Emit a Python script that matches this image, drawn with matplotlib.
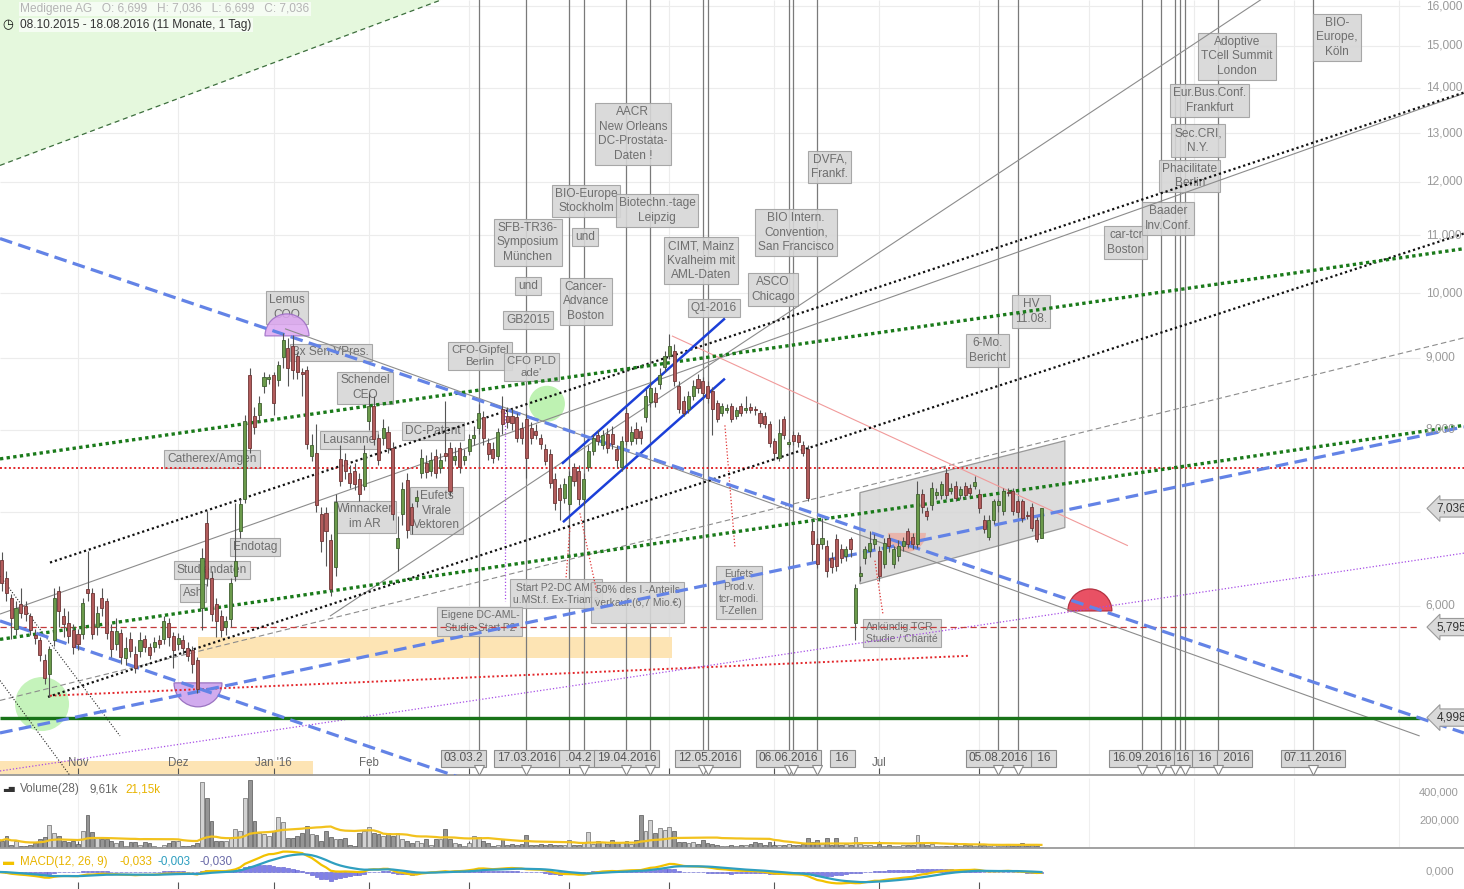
import numpy as np
import pandas as pd
import matplotlib
matplotlib.use('Agg')
import matplotlib.pyplot as plt
from matplotlib.patches import Wedge, Polygon
from matplotlib.transforms import ScaledTranslation, blended_transform_factory
from matplotlib.ticker import NullLocator

plt.rcParams['font.family'] = ['Liberation Sans', 'DejaVu Sans']

# Medigene AG, daily candles 08.10.2015 - 18.08.2016
opens = [6.60, 6.47, 6.28, 6.08, 5.78, 6.02, 6.00, 5.90, 5.72, 5.67,
         5.49, 5.37, 5.67, 6.15, 5.90, 5.83, 5.77, 5.73, 5.73, 6.17,
         6.13, 5.80, 6.08, 6.05, 5.76, 5.64, 5.74, 5.51, 5.68, 5.55,
         5.57, 5.68, 5.61, 5.61, 5.67, 5.68, 5.83, 5.71, 5.64, 5.67,
         5.60, 5.58, 5.49, 5.98, 6.87, 6.28, 6.02, 5.90, 5.80, 5.87,
         6.30, 6.78, 7.15, 8.75, 8.19, 8.20, 8.60, 8.70, 8.75, 8.68,
         9.01, 9.15, 9.18, 9.03, 8.80, 8.83, 7.67, 7.70, 6.97, 6.98,
         6.68, 6.39, 7.63, 7.61, 7.45, 7.48, 7.38, 7.30, 8.12, 8.32,
         7.89, 7.89, 7.97, 7.77, 6.60, 6.97, 7.37, 7.05, 7.12, 7.46,
         7.58, 7.48, 7.67, 7.52, 7.70, 7.77, 7.62, 7.77, 7.62, 7.73,
         7.89, 8.02, 8.17, 7.83, 7.75, 7.67, 8.28, 8.19, 8.19, 8.17,
         8.03, 8.15, 8.03, 7.99, 7.89, 7.75, 7.69, 7.38, 7.27, 7.16,
         7.09, 7.53, 7.48, 7.14, 7.53, 7.73, 7.93, 7.80, 7.95, 7.95,
         7.75, 7.53, 8.22, 7.86, 8.01, 7.99, 8.17, 8.37, 8.50, 8.63,
         8.86, 9.03, 9.10, 8.60, 8.39, 8.28, 8.46, 8.70, 8.67, 8.60,
         8.53, 8.36, 8.23, 8.27, 8.32, 8.19, 8.32, 8.27, 8.30, 8.28,
         8.22, 8.19, 8.08, 7.86, 7.64, 8.15, 7.82, 7.93, 7.93, 7.80,
         7.76, 6.78, 6.64, 6.64, 6.62, 6.49, 6.69, 6.58, 6.51, 6.69,
         5.83, 6.30, 6.49, 6.56, 6.64, 6.56, 6.43, 6.70, 6.43, 6.51,
         6.62, 6.78, 6.72, 6.64, 7.21, 7.01, 7.07, 7.19, 7.19, 7.46,
         7.24, 7.30, 7.19, 7.30, 7.28, 7.30, 7.21, 6.90, 6.72, 6.90,
         7.07, 7.01, 7.23, 7.24, 7.12, 7.12, 6.96, 7.05, 6.90, 6.699]
highs = [6.65, 6.55, 6.35, 6.12, 6.05, 6.18, 6.05, 5.93, 5.78, 5.70,
         5.55, 5.62, 6.18, 6.20, 5.98, 5.95, 5.82, 5.78, 6.08, 6.56,
         6.18, 6.00, 6.18, 6.08, 5.82, 5.88, 5.78, 5.70, 5.75, 5.62,
         5.75, 5.72, 5.65, 5.70, 5.72, 5.90, 5.88, 5.75, 5.74, 5.72,
         5.66, 5.62, 5.52, 6.60, 7.01, 6.35, 6.08, 5.96, 5.90, 6.28,
         7.10, 7.15, 8.20, 8.85, 8.30, 8.45, 8.80, 8.76, 8.80, 8.95,
         9.38, 9.30, 9.35, 9.08, 8.85, 8.88, 7.95, 8.08, 7.05, 7.05,
         6.75, 7.20, 7.80, 7.70, 7.55, 7.58, 7.45, 7.80, 8.50, 8.45,
         7.95, 8.15, 8.05, 7.85, 6.95, 7.35, 7.45, 7.10, 7.25, 7.75,
         7.68, 7.72, 7.75, 7.70, 8.39, 7.85, 7.78, 7.85, 7.75, 7.95,
         8.05, 8.35, 8.25, 7.90, 7.85, 8.02, 8.45, 8.30, 8.28, 8.22,
         8.10, 8.22, 8.10, 8.08, 7.95, 7.82, 7.75, 7.45, 7.32, 7.40,
         7.48, 7.58, 7.55, 7.45, 7.80, 7.95, 8.00, 8.00, 8.02, 8.05,
         7.80, 7.92, 8.30, 8.05, 8.10, 8.05, 8.55, 8.65, 8.58, 8.85,
         9.10, 9.36, 9.20, 8.66, 8.45, 8.52, 8.68, 8.76, 8.72, 8.66,
         8.58, 8.40, 8.36, 8.34, 8.36, 8.30, 8.36, 8.46, 8.36, 8.32,
         8.26, 8.24, 8.12, 7.90, 8.14, 8.18, 7.88, 7.98, 7.97, 7.86,
         7.80, 6.90, 6.70, 6.93, 6.68, 6.55, 6.75, 6.64, 6.62, 6.72,
         6.22, 6.40, 6.62, 6.78, 6.75, 6.62, 6.70, 6.75, 6.62, 6.68,
         6.72, 6.82, 6.76, 7.36, 7.26, 7.05, 7.35, 7.28, 7.36, 7.52,
         7.34, 7.36, 7.30, 7.35, 7.32, 7.42, 7.26, 6.96, 6.96, 7.14,
         7.14, 7.28, 7.28, 7.28, 7.14, 7.14, 7.01, 7.10, 6.94, 7.036]
lows = [6.40, 6.15, 6.05, 5.68, 5.72, 5.88, 5.85, 5.72, 5.64, 5.48,
        5.28, 5.17, 5.62, 5.80, 5.70, 5.65, 5.55, 5.58, 5.68, 6.05,
        5.68, 5.72, 5.90, 5.68, 5.52, 5.58, 5.46, 5.45, 5.52, 5.38,
        5.52, 5.56, 5.50, 5.56, 5.60, 5.64, 5.62, 5.42, 5.58, 5.55,
        5.48, 5.38, 5.20, 5.77, 6.20, 5.85, 5.70, 5.70, 5.72, 5.80,
        6.25, 6.70, 7.10, 7.70, 7.95, 8.10, 8.50, 8.62, 8.20, 8.60,
        8.85, 8.60, 8.70, 8.70, 8.45, 7.75, 7.60, 7.00, 6.55, 6.40,
        6.10, 6.30, 7.30, 7.38, 7.28, 7.25, 7.12, 7.25, 8.00, 7.80,
        7.55, 7.80, 7.70, 6.90, 6.35, 6.85, 6.70, 6.75, 7.05, 7.40,
        7.40, 7.42, 7.40, 7.45, 7.60, 7.18, 7.55, 7.45, 7.55, 7.68,
        7.80, 7.95, 7.80, 7.62, 7.58, 7.62, 7.95, 8.02, 8.00, 7.85,
        7.82, 7.40, 7.82, 7.88, 7.75, 7.55, 7.28, 7.02, 6.90, 7.10,
        7.02, 7.30, 7.08, 7.08, 7.48, 7.68, 7.80, 7.75, 7.70, 7.75,
        7.52, 7.48, 7.80, 7.80, 7.82, 7.82, 8.10, 8.30, 8.30, 8.55,
        8.80, 8.98, 8.60, 8.22, 8.18, 8.22, 8.40, 8.50, 8.44, 8.36,
        7.93, 8.10, 8.18, 8.22, 8.10, 8.14, 8.18, 8.22, 8.22, 8.20,
        8.04, 8.02, 7.78, 7.62, 7.60, 7.88, 7.78, 7.80, 7.78, 7.66,
        7.12, 6.46, 6.38, 6.58, 6.29, 6.33, 6.35, 6.44, 6.46, 6.50,
        5.67, 6.25, 6.42, 6.50, 6.58, 6.25, 6.38, 6.55, 6.38, 6.46,
        6.56, 6.60, 6.58, 6.60, 6.98, 6.90, 7.02, 7.15, 7.14, 7.15,
        7.20, 7.12, 7.14, 7.15, 7.18, 7.26, 6.98, 6.76, 6.68, 6.86,
        7.00, 6.96, 7.18, 6.96, 6.94, 6.88, 6.92, 6.78, 6.66, 6.699]
closes = [6.45, 6.23, 6.13, 5.88, 5.98, 5.93, 5.92, 5.77, 5.69, 5.54,
          5.33, 5.59, 6.08, 5.95, 5.82, 5.71, 5.61, 5.64, 6.03, 6.13,
          5.73, 5.93, 5.98, 5.74, 5.59, 5.76, 5.52, 5.60, 5.57, 5.42,
          5.67, 5.61, 5.54, 5.66, 5.64, 5.85, 5.70, 5.58, 5.69, 5.60,
          5.53, 5.46, 5.24, 6.49, 6.28, 5.92, 5.85, 5.77, 5.85, 6.23,
          6.46, 7.09, 8.12, 7.77, 8.04, 8.36, 8.73, 8.72, 8.36, 8.89,
          9.26, 8.85, 8.82, 8.79, 8.77, 7.82, 7.80, 7.08, 6.67, 6.78,
          6.17, 7.11, 7.36, 7.48, 7.33, 7.32, 7.21, 7.71, 8.32, 7.88,
          7.61, 8.03, 7.77, 6.97, 6.70, 7.26, 6.79, 6.85, 7.17, 7.64,
          7.47, 7.62, 7.46, 7.62, 7.66, 7.24, 7.67, 7.53, 7.67, 7.88,
          7.93, 8.23, 7.89, 7.69, 7.64, 7.97, 8.08, 8.10, 8.09, 7.89,
          7.89, 7.64, 7.89, 7.93, 7.82, 7.60, 7.34, 7.10, 7.13, 7.32,
          7.42, 7.36, 7.14, 7.38, 7.73, 7.89, 7.86, 7.93, 7.77, 7.82,
          7.61, 7.86, 7.86, 7.97, 7.89, 7.89, 8.46, 8.57, 8.37, 8.75,
          9.03, 9.18, 8.67, 8.28, 8.23, 8.46, 8.60, 8.57, 8.50, 8.43,
          8.28, 8.15, 8.32, 8.29, 8.15, 8.26, 8.23, 8.29, 8.27, 8.26,
          8.09, 8.08, 7.83, 7.70, 7.96, 7.93, 7.84, 7.86, 7.84, 7.70,
          7.16, 6.64, 6.43, 6.70, 6.35, 6.39, 6.40, 6.49, 6.58, 6.58,
          6.18, 6.33, 6.58, 6.65, 6.69, 6.30, 6.65, 6.62, 6.58, 6.62,
          6.67, 6.64, 6.64, 7.21, 7.05, 6.95, 7.28, 7.23, 7.32, 7.19,
          7.28, 7.16, 7.26, 7.19, 7.22, 7.35, 7.04, 6.80, 6.90, 7.12,
          7.12, 7.24, 7.22, 7.01, 7.00, 6.93, 6.95, 6.82, 6.69, 7.036]
volumes_k = [60, 50, 86, 25, 50, 12, 12, 25, 37, 62,
             80, 168, 111, 86, 49, 44, 49, 30, 124, 235,
             119, 79, 67, 62, 49, 37, 49, 12, 42, 42,
             25, 42, 37, 12, 10, 25, 37, 49, 49, 12,
             12, 25, 37, 474, 358, 198, 54, 49, 49, 69,
             136, 124, 358, 489, 198, 111, 99, 86, 124, 227,
             185, 74, 69, 86, 111, 161, 99, 94, 54, 124,
             79, 62, 62, 74, 25, 12, 111, 124, 148, 111,
             99, 86, 111, 86, 111, 62, 49, 37, 49, 37,
             67, 25, 62, 62, 136, 62, 37, 32, 12, 37,
             86, 79, 49, 37, 12, 25, 67, 25, 30, 25,
             30, 95, 25, 20, 30, 25, 30, 20, 25, 20,
             55, 25, 20, 35, 115, 30, 50, 45, 30, 55,
             40, 45, 50, 30, 55, 240, 120, 200, 110, 145,
             130, 150, 125, 40, 45, 35, 40, 30, 60, 35,
             30, 25, 15, 15, 25, 15, 25, 20, 30, 45,
             35, 20, 40, 25, 20, 25, 30, 20, 25, 30,
             75, 45, 60, 30, 70, 20, 70, 25, 30, 20,
             80, 30, 20, 25, 15, 30, 15, 20, 15, 15,
             20, 25, 25, 95, 40, 25, 30, 15, 12, 12,
             15, 20, 15, 25, 20, 15, 20, 25, 15, 20,
             15, 15, 30, 15, 12, 35, 15, 20, 15, 9.61]

# trading calendar, x axis = trading day number
holidays = ['2015-12-24', '2015-12-25', '2015-12-31', '2016-01-01',
            '2016-03-25', '2016-03-28', '2016-12-26']
days = pd.bdate_range('2015-10-08', '2016-12-30')
days = days[~days.isin(pd.to_datetime(holidays))]

def day(d):
    return days.get_loc(pd.Timestamp(d))

month_starts = [day(d) for d in pd.Series(days).groupby([days.year, days.month]).first()][1:]
month_names = ['Nov', 'Dez', "Jan '16", 'Feb', 'Mrz', 'Apr', 'Mai', 'Jun', 'Jul', 'Aug']

o = np.array(opens); h = np.array(highs); l = np.array(lows); c = np.array(closes)
vol = np.array(volumes_k) * 1000
x = np.arange(len(c))
up = c >= o

W, H = 1464, 889
fig = plt.figure(figsize=(W / 100, H / 100), dpi=100)
ax = fig.add_axes([0, 114 / H, 1, 775 / H])
axv = fig.add_axes([0, 41 / H, 1, 70 / H], sharex=ax)
axm = fig.add_axes([0, 0, 1, 39 / H], sharex=ax)
X0, X1 = 0.65, 307.6
XR = 298.3   # grid ends here
XL = 299.6   # right price labels

ax.set_yscale('log')
ax.set_xlim(X0, X1)
ax.set_ylim(4.55, 16.16)
for a in (ax, axv, axm):
    for s in a.spines.values():
        s.set_visible(False)
    a.yaxis.set_major_locator(NullLocator())
    a.yaxis.set_minor_locator(NullLocator())
    a.set_xticks(month_starts[:10])
    a.tick_params(axis='x', direction='in', length=5, color='#555555', labelbottom=False)
for a in (ax, axv):
    a.spines['bottom'].set_visible(True)
    a.spines['bottom'].set_color('#9a9a9a')
    a.spines['bottom'].set_linewidth(1.3)

# grid
ax.hlines(range(5, 17), X0, XR, color='#ececec', lw=0.8, zorder=0)
ax.vlines(month_starts, 4.55, 16.16, color='#ececec', lw=0.8, zorder=0)
bt = blended_transform_factory(ax.transData, ax.transAxes)

# shaded areas
ax.add_patch(Polygon([(X0, 12.33), (100, 16.49), (100, 20), (X0, 20)], fc='#e5f8dd', ec='none', zorder=0))
ax.plot([X0, 100], [12.33, 16.49], color='#3c6e3c', lw=0.9, ls=(0, (4, 3)), zorder=1)
ax.fill_between([42.16, 141.53], 5.51, 5.70, color='#fde4b4', lw=0, zorder=1)
ax.fill_between([X0, 66.3], 4.4, 4.656, color='#fde4b4', lw=0, zorder=1)
ax.add_patch(Polygon([(180.94, 7.22), (223.92, 7.86), (223.92, 6.82), (180.94, 6.22)],
                     fc='#d6d6d6', ec='#8a8a8a', lw=0.9, alpha=0.85, zorder=1))

# event lines, date boxes on the time axis
event_days = ['2016-03-03', '2016-03-17', '2016-04-01', '2016-04-06', '2016-04-19',
              '2016-04-26', '2016-05-11', '2016-05-12', '2016-06-06', '2016-06-07',
              '2016-06-14', '2016-08-05', '2016-08-11', '2016-09-16', '2016-09-22',
              '2016-09-27', '2016-09-28', '2016-09-29', '2016-10-10', '2016-11-07']
marked_days = [d for d in event_days if d not in ('2016-04-01', '2016-09-28')]
date_boxes = [('2016-03-17', '17.03.2016'), ('2016-04-19', '19.04.2016'),
              ('2016-05-12', '12.05.2016'), ('2016-06-06', '06.06.2016'),
              ('2016-08-05', '05.08.2016'), ('2016-09-16', '16.09.2016'),
              ('2016-11-07', '07.11.2016')]
# boxes that lie under their neighbours: only the visible end shows
date_parts = [('2016-03-03', '03.03.2', -35, 'left'), ('2016-04-06', ' .04.2 ', -22, 'left'),
              ('2016-06-14', ' 16 ', 25, 'center'), ('2016-08-11', ' 16 ', 26, 'center'),
              ('2016-09-22', ' 16 ', 22, 'center'), ('2016-09-28', ' 16 ', 25, 'center'),
              ('2016-10-10', ' 2016', 17, 'center')]
box_style = dict(boxstyle='square,pad=0.22', fc='#d8d8d8', ec='#8c8c8c', lw=0.8)
for d in event_days:
    ax.axvline(day(d), ymin=0.031, ymax=1, color='#7a7a7a', lw=0.9, zorder=1.5)
for d in marked_days:
    ax.plot([day(d)], [0.006], transform=bt, marker='v', ms=7, mfc='white', mec='#888888',
            mew=0.8, zorder=6.5, clip_on=False)
for d, lab, dx, ha in date_parts:
    ax.annotate(lab, xy=(day(d), 0.0215), xycoords=bt, xytext=(dx, 0), textcoords='offset pixels',
                ha=ha, va='center', fontsize=8.6, color='#555555', zorder=6.0, bbox=box_style)
for d, lab in date_boxes:
    ax.text(day(d), 0.0215, lab, transform=bt, ha='center', va='center', fontsize=8.6,
            color='#555555', zorder=6.3, bbox=box_style)

for mi, name in zip(month_starts, month_names):
    if name in ('Mrz', 'Apr', 'Mai', 'Jun', 'Aug'):
        continue   # hidden under the date boxes
    ax.text(mi, 0.0155, name, transform=bt, ha='center', va='center', fontsize=8.3,
            color='#666666', zorder=5.5)

# trend lines
BLUE_D = dict(color='#6383e6', lw=2.3, ls=(0, (4, 2)))
BLUE = dict(color='#1b3fd8', lw=1.8, ls='-')
GREEN_D = dict(color='#1a7a1a', lw=2.4, ls=(0, (1, 1)))
BLACK_D = dict(color='#111111', lw=1.6, ls=(0, (1, 1.3)))
BLACK_T = dict(color='#222222', lw=0.8, ls=(0, (1, 1.6)))
RED_D = dict(color='#e3272b', lw=1.4, ls=(0, (1, 1.3)))
RED_T = dict(color='#e03434', lw=0.9, ls=(0, (1, 1.6)))
RED_DASH = dict(color='#c43a3a', lw=0.9, ls=(0, (5, 3)))
GREEN = dict(color='#187318', lw=2.4, ls='-')
GRAY = dict(color='#8c8c8c', lw=0.8, ls='-')
GRAY_D = dict(color='#8c8c8c', lw=0.8, ls=(0, (5, 3)))
PINK = dict(color='#f19a9a', lw=0.8, ls='-')
VIOLET = dict(color='#a64de6', lw=0.9, ls=(0, (1, 1.6)))

trend = [
    (X0, 5.92, 307.57, 13.87, GRAY),
    (69.83, 5.90, 270.0, 16.59, GRAY),
    (60.40, 9.44, XR, 4.85, GRAY),
    (X0, 5.14, 307.57, 9.30, GRAY_D),
    (141.53, 9.33, 237.13, 6.62, PINK),
    (X0, 4.58, 307.57, 6.54, VIOLET),
    (106.52, 8.28, 106.52, 6.05, VIOLET),
    (X0, 5.795, XR, 5.795, RED_DASH),
    (X0, 4.998, XR, 4.998, GREEN),
    (X0, 7.52, 307.57, 7.52, RED_D),
    (11.13, 5.18, 204.01, 5.53, RED_D),
    (120.15, 6.82, 119.31, 6.27, RED_T),
    (122.24, 6.98, 125.81, 6.13, RED_T),
    (152.64, 8.06, 154.74, 6.60, RED_T),
    (184.09, 6.46, 185.77, 5.92, RED_T),
    (X0, 6.30, 25.81, 4.85, BLACK_T),
    (X0, 5.31, 16.16, 4.506, BLACK_T),
    (11.13, 6.44, 307.57, 13.89, BLACK_D),
    (10.71, 5.17, 307.57, 11.03, BLACK_D),
    (X0, 7.63, 307.57, 10.76, GREEN_D),
    (X0, 5.68, 307.57, 8.06, GREEN_D),
    (118.47, 7.57, 152.64, 9.60, BLUE),
    (118.68, 6.88, 152.64, 8.70, BLUE),
    (X0, 10.94, 307.57, 4.874, BLUE_D),
    (X0, 5.854, 99.18, 4.506, BLUE_D),
    (X0, 4.874, 307.57, 8.04, BLUE_D),
]
for x0, y0, x1, y1, sty in trend:
    ax.plot([x0, x1], [y0, y1], zorder=3, solid_capstyle='butt', **sty)

# circles / half circles (radius in pixels)
def blob(xi, p, r, t1, t2, fc, ec, alpha, z=2.5):
    tr = fig.dpi_scale_trans + ScaledTranslation(xi, p, ax.transData)
    ax.add_patch(Wedge((0, 0), r / 100, t1, t2, transform=tr, fc=fc, ec=ec, lw=0.9,
                       alpha=alpha, zorder=z))

blob(9.46, 5.11, 27, 0, 360, '#b2f0a4', 'none', 0.75)
blob(115.32, 8.35, 18, 0, 360, '#a8ee98', 'none', 0.75)
blob(60.82, 9.33, 22, 0, 180, '#dca6f0', '#9c6cc4', 0.85)
blob(42.16, 5.29, 24, 180, 360, '#c99cec', '#8e64b8', 0.85)
blob(229.16, 5.95, 22, 0, 180, '#e8485c', '#b02c3c', 0.95)
blob(190.8, 6.76, 19, 180, 360, '#f29c8c', 'none', 0.6)

# annotation boxes
notes = [
    (60.82, 9.77, 'Lemus\nCOO'), (70.04, 9.08, '3x Sen.VPres.'),
    (77.17, 8.57, 'Schendel\nCEO'), (73.82, 7.87, 'Lausanne'),
    (45.09, 7.63, 'Catherex/Amgen'), (77.17, 6.94, 'Winnacker\nim AR'),
    (92.26, 7.01, 'Eufets\nVirale\nVektoren'), (91.43, 7.99, 'DC-Patent'),
    (54.11, 6.61, 'Endotag'), (45.09, 6.36, 'Studiendaten'), (41.11, 6.13, 'Ash'),
    (111.34, 9.57, 'GB2015'), (111.34, 10.12, 'und'),
    (111.34, 10.87, 'SFB-TR36-\nSymposium\nMünchen'), (123.29, 10.97, 'und'),
    (123.50, 11.63, 'BIO-Europe\nStockholm'), (123.50, 9.87, 'Cancer-\nAdvance\nBoston'),
    (133.35, 12.98, 'AACR\nNew Orleans\nDC-Prostata-\nDaten !'),
    (138.39, 11.45, 'Biotechn.-tage\nLeipzig'),
    (147.61, 10.55, 'CIMT, Mainz\nKvalheim mit\nAML-Daten'), (150.34, 9.76, 'Q1-2016'),
    (167.53, 11.05, 'BIO Intern.\nConvention,\nSan Francisco'),
    (162.70, 10.07, 'ASCO\nChicago'), (174.65, 12.30, 'DVFA,\nFrankf.'),
    (207.78, 9.11, '6-Mo.\nBericht'), (216.80, 9.71, 'HV\n11.08.'),
    (236.71, 10.87, 'car-tcr\nBoston'), (245.52, 11.30, 'Baader\nInv.Conf.'),
    (250.12, 12.12, 'Phacilitate\nBerlin'), (251.80, 12.84, 'Sec.CRI,\nN.Y.'),
    (254.32, 13.71, 'Eur.Bus.Conf.\nFrankfurt'),
    (259.98, 14.74, 'Adoptive\nTCell Summit\nLondon'), (280.94, 15.20, 'BIO-\nEurope,\nKöln'),
]
tight_notes = [(101.3, 9.03, 'CFO-Gipfel\nBerlin'), (112.1, 8.87, "CFO PLD\nade'")]
small_notes = [
    (117.21, 6.12, 'Start P2-DC AML\nu.MSt.f. Ex-Triante'),
    (134.40, 6.03, '50% des I.-Anteils\nverkauf.(6,7 Mio.€)\n'),
    (101.28, 5.85, 'Eigene DC-AML-\nStudie-Start P2'),
    (155.58, 6.13, 'Eufets\nProd.v.\ntcr-modi.\nT-Zellen'),
    (189.75, 5.74, 'Ankündig.TCR-\nStudie / Charité'),
]
note_box = dict(boxstyle='square,pad=0.25', fc='#d6d6d6', ec='#a0a0a0', lw=0.8, alpha=0.9)
for xi, p, t in notes:
    ax.text(xi, p, t, ha='center', va='center', fontsize=8.6, color='#6e6e6e', linespacing=1.3,
            zorder=2, bbox=note_box)
for xi, p, t in tight_notes:
    ax.text(xi, p, t, ha='center', va='center', fontsize=8.2, color='#6e6e6e', linespacing=1.3,
            zorder=2, bbox=note_box)
for xi, p, t in small_notes:
    ax.text(xi, p, t, ha='center', va='center', fontsize=7.5, color='#6e6e6e', linespacing=1.3,
            zorder=2, bbox=dict(boxstyle='square,pad=0.3', fc='#d6d6d6', ec='#a0a0a0', lw=0.8, alpha=0.9))

# candles
ax.vlines(x, l, h, color='#555555', lw=0.8, zorder=4)
ax.bar(x[up], (c - o)[up], bottom=o[up], width=0.64, color='#6b9a4b', edgecolor='#3f6030', lw=0.6, zorder=5)
ax.bar(x[~up], (o - c)[~up], bottom=c[~up], width=0.64, color='#b25c5c', edgecolor='#6e3535', lw=0.6, zorder=5)

# right price scale
for p in [16, 15, 14, 13, 12, 11, 10, 9, 8, 6]:
    ax.text(XL, p, f'{p},000', ha='left', va='center', fontsize=8.6, color='#9a9a9a', zorder=8)
for p, t in [(7.036, '7,036'), (5.795, '5,795'), (4.998, '4,998')]:
    ax.text(301.8, p, t, ha='left', va='center', fontsize=8.6, color='#333333', zorder=9,
            bbox=dict(boxstyle='larrow,pad=0.22', fc='#d9d9d9', ec='#9a9a9a', lw=0.8))

# header
fig.text(20 / W, 1 - 9 / H, 'Medigene AG   O: 6,699   H: 7,036   L: 6,699   C: 7,036', fontsize=8.6,
         color='#b4b4b4', va='center', bbox=dict(fc='white', ec='none', alpha=0.65, pad=1))
fig.text(2 / W, 1 - 25 / H, '\u25F7', fontsize=9, color='#111111', va='center', weight='bold')
fig.text(20 / W, 1 - 25 / H, '08.10.2015 - 18.08.2016 (11 Monate, 1 Tag)', fontsize=8.6,
         color='#333333', va='center', bbox=dict(fc='white', ec='none', alpha=0.65, pad=1))

# volume panel
vma = pd.Series(vol).rolling(28, min_periods=1).mean()
axv.set_ylim(0, 505000)
axv.vlines(month_starts, 0, 505000, color='#efefef', lw=0.8, zorder=0)
axv.bar(x[up], vol[up], width=0.8, color='#d2d2d2', edgecolor='#6a6a6a', lw=0.5, zorder=2)
axv.bar(x[~up], vol[~up], width=0.8, color='#959595', edgecolor='#555555', lw=0.5, zorder=2)
axv.plot(x, vma, color='#f2c21e', lw=1.6, zorder=3)
for v, t in [(400000, '400,000'), (200000, '200,000')]:
    axv.text(298.2, v, t, ha='left', va='center', fontsize=8.0, color='#9a9a9a')
fig.text(3 / W, 1 - 789 / H, '\u2583\u2585', fontsize=5.5, color='#333333', va='center')
fig.text(20 / W, 1 - 789 / H, 'Volume(28)', fontsize=8.4, color='#666666', va='center')
fig.text(89 / W, 1 - 789 / H, '9,61k', fontsize=8.4, color='#666666', va='center')
fig.text(125 / W, 1 - 789 / H, '21,15k', fontsize=8.4, color='#e8b400', va='center')

# MACD panel
cs = pd.Series(c)
macd = cs.ewm(span=12, adjust=False).mean() - cs.ewm(span=26, adjust=False).mean()
signal = macd.ewm(span=9, adjust=False).mean()
hist = macd - signal
m = float(np.abs(macd).max()) * 1.08
axm.set_ylim(-0.78 * m, m)
axm.bar(x, hist, width=0.8, color='#8080e8', edgecolor='#5555c8', lw=0.4, zorder=2)
axm.plot(x, macd, color='#f2c200', lw=1.6, zorder=3)
axm.plot(x, signal, color='#2f9fc0', lw=1.6, zorder=3)
axm.text(XL, 0, '0,000', ha='left', va='center', fontsize=8.2, color='#9a9a9a')
fig.text(3 / W, 1 - 862 / H, '\u25AC', fontsize=8, color='#f2c200', va='center')
fig.text(20 / W, 1 - 862 / H, 'MACD(12, 26, 9)', fontsize=8.4, color='#e8b400', va='center')
fig.text(120 / W, 1 - 862 / H, '-0,033', fontsize=8.4, color='#e8b400', va='center')
fig.text(158 / W, 1 - 862 / H, '-0,003', fontsize=8.4, color='#2f9fc0', va='center')
fig.text(199 / W, 1 - 862 / H, '-0,030', fontsize=8.4, color='#6a6aa8', va='center')

fig.savefig('out.png', dpi=100)
